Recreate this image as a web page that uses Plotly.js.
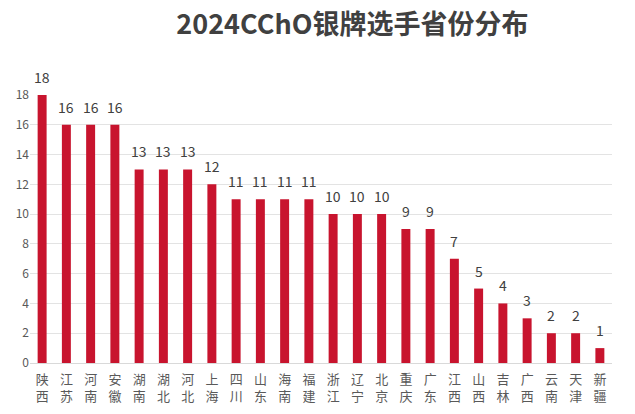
<!DOCTYPE html>
<html>
<head>
<meta charset="utf-8">
<script src="https://cdn.plot.ly/plotly-3.0.1.min.js"></script>
<style>
  html, body { margin: 0; padding: 0; background: white; }
  #chart { width: 635px; height: 414px; }
</style>
</head>
<body>
<div id="chart"></div>
<script>
// provinces and silver medal counts
const provinces = ['陕西', '江苏', '河南', '安徽', '湖南', '湖北', '河北', '上海', '四川', '山东', '海南', '福建',
  '浙江', '辽宁', '北京', '重庆', '广东', '江西', '山西', '吉林', '广西', '云南', '天津', '新疆'];
const counts = [18, 16, 16, 16, 13, 13, 13, 12, 11, 11, 11, 11, 10, 10, 10, 9, 9, 7, 5, 4, 3, 2, 2, 1];
const yTicks = [0, 2, 4, 6, 8, 10, 12, 14, 16, 18];

// stack the two characters vertically
const tickText = provinces.map(p => p.split('').join('<br>'));

const fontFamily = '"Noto Sans CJK SC", "Noto Sans", sans-serif';

var trace = {
  x: provinces,
  y: counts,
  type: 'bar',
  marker: { color: '#C8142E' },
  hoverinfo: 'none'
};

// value labels sit a little above each bar
var labels = provinces.map((p, i) => ({
  x: p,
  y: counts[i],
  text: String(counts[i]),
  showarrow: false,
  yanchor: 'bottom',
  yshift: 6,
  font: { family: fontFamily, size: 14, color: '#404040' }
}));

var layout = {
  width: 635,
  height: 414,
  margin: { l: 30, r: 23, t: 95, b: 51 },
  paper_bgcolor: 'white',
  plot_bgcolor: 'white',
  showlegend: false,
  bargap: 0.63,
  font: { family: fontFamily, color: '#595959' },
  annotations: labels,
  title: {
    text: '<b>2024CChO银牌选手省份分布</b>',
    font: { family: fontFamily, size: 27, color: '#404040' },
    xref: 'container',
    x: 0.555,
    xanchor: 'center',
    yref: 'container',
    y: 0.94,
    yanchor: 'middle'
  },
  xaxis: {
    tickmode: 'array',
    tickvals: provinces,
    ticktext: tickText,
    tickangle: 0,
    tickfont: { family: fontFamily, size: 13, color: '#595959' },
    ticklabelstandoff: 4,
    showline: true,
    linecolor: '#D9D9D9',
    ticks: '',
    showgrid: false
  },
  yaxis: {
    range: [0, 18],
    tickmode: 'array',
    tickvals: yTicks,
    tickfont: { family: fontFamily, size: 12, color: '#595959' },
    gridcolor: '#E3E3E3',
    zeroline: false,
    showline: false,
    ticks: '',
    ticklen: 4
  }
};

Plotly.newPlot('chart', [trace], layout, { staticPlot: true });
</script>
</body>
</html>
